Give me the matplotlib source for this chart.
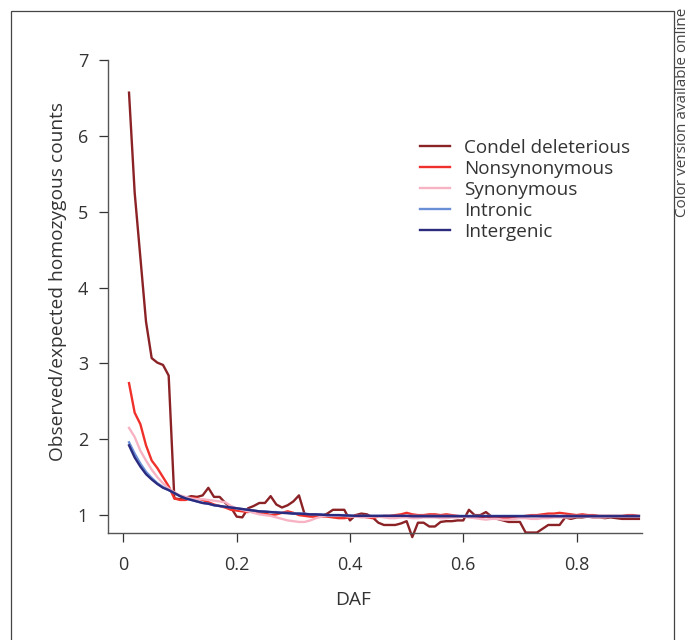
import matplotlib
matplotlib.use("Agg")
import matplotlib.pyplot as plt
from matplotlib.patches import Rectangle
import numpy as np

plt.rcParams['font.family'] = ['Open Sans', 'DejaVu Sans']

# derived allele frequency bins
daf = np.round(np.arange(1, 92) / 100, 2)

condel = [6.57, 5.25, 4.40, 3.55, 3.07, 3.01, 2.98, 2.84, 1.22, 1.21,
          1.23, 1.25, 1.24, 1.26, 1.36, 1.24, 1.24, 1.16, 1.10, 0.98,
          0.97, 1.09, 1.12, 1.16, 1.16, 1.25, 1.14, 1.10, 1.13, 1.18,
          1.26, 1.01, 1.00, 0.99, 0.99, 1.02, 1.07, 1.07, 1.07, 0.93,
          1.00, 1.02, 1.01, 0.97, 0.90, 0.87, 0.87, 0.87, 0.89, 0.92,
          0.71, 0.90, 0.90, 0.85, 0.85, 0.91, 0.92, 0.92, 0.93, 0.93,
          1.07, 1.00, 1.00, 1.04, 0.98, 0.95, 0.93, 0.91, 0.91, 0.91,
          0.77, 0.77, 0.77, 0.82, 0.87, 0.87, 0.87, 0.97, 0.95, 0.97,
          0.97, 0.98, 0.97, 0.97, 0.96, 0.97, 0.96, 0.95, 0.95, 0.95,
          0.95]
nonsyn = [2.74, 2.35, 2.20, 1.92, 1.72, 1.62, 1.50, 1.38, 1.22, 1.20,
          1.20, 1.23, 1.22, 1.20, 1.17, 1.14, 1.12, 1.10, 1.07, 1.06,
          1.05, 1.04, 1.06, 1.03, 1.02, 1.00, 1.01, 1.03, 1.05, 1.03,
          1.00, 0.99, 0.98, 0.98, 0.98, 0.98, 0.97, 0.96, 0.96, 0.97,
          1.00, 0.99, 0.97, 0.96, 0.98, 0.99, 0.99, 1.00, 1.01, 1.03,
          1.01, 1.00, 1.00, 1.01, 1.01, 1.00, 1.01, 1.00, 0.99, 0.98,
          0.98, 0.97, 0.97, 0.98, 0.97, 0.96, 0.96, 0.96, 0.97, 0.98,
          0.99, 1.00, 1.00, 1.01, 1.02, 1.02, 1.03, 1.02, 1.01, 1.00,
          1.01, 1.00, 1.00, 0.99, 0.99, 0.99, 0.99, 0.99, 1.00, 1.00,
          0.99]
syn = [2.15, 2.03, 1.85, 1.72, 1.60, 1.50, 1.42, 1.35, 1.30, 1.26,
       1.24, 1.22, 1.21, 1.21, 1.20, 1.19, 1.18, 1.17, 1.12, 1.09,
       1.07, 1.05, 1.03, 1.01, 1.00, 0.99, 0.97, 0.95, 0.93, 0.92,
       0.91, 0.91, 0.93, 0.96, 0.98, 0.99, 0.99, 0.99, 0.99, 0.98,
       0.98, 0.97, 0.97, 0.98, 0.98, 0.97, 0.96, 0.96, 0.97, 0.97,
       0.96, 0.96, 0.97, 0.97, 0.97, 0.96, 0.96, 0.97, 0.97, 0.98,
       0.97, 0.96, 0.95, 0.94, 0.95, 0.95, 0.94, 0.94, 0.95, 0.96,
       0.96, 0.95, 0.95, 0.96, 0.96, 0.97, 0.97, 0.97, 0.97, 0.98,
       0.98, 0.98, 0.97, 0.97, 0.97, 0.98, 0.98, 0.98, 0.98, 0.98,
       0.98]
intronic = [1.96, 1.81, 1.68, 1.57, 1.49, 1.42, 1.37, 1.33, 1.29, 1.25,
            1.22, 1.20, 1.18, 1.16, 1.15, 1.13, 1.12, 1.11, 1.10, 1.09,
            1.08, 1.07, 1.06, 1.05, 1.05, 1.04, 1.04, 1.03, 1.03, 1.02,
            1.02, 1.02, 1.01, 1.01, 1.01, 1.00, 1.00, 1.00, 1.00, 0.99,
            0.99, 0.99, 0.99, 0.99, 0.99, 0.99, 0.99, 0.99, 0.99, 0.99,
            0.99, 0.99, 0.99, 0.99, 0.99, 0.99, 0.99, 0.99, 0.99, 0.99,
            0.99, 0.99, 0.99, 0.99, 0.99, 0.99, 0.99, 0.99, 0.99, 0.99,
            0.99, 0.99, 0.99, 0.99, 0.99, 0.99, 0.99, 0.99, 0.99, 0.99,
            0.99, 0.99, 0.99, 0.99, 0.99, 0.99, 0.99, 0.99, 0.99, 0.99,
            0.99]
intergenic = [1.92, 1.76, 1.64, 1.54, 1.47, 1.41, 1.36, 1.33, 1.29, 1.25,
              1.22, 1.20, 1.18, 1.16, 1.15, 1.13, 1.12, 1.11, 1.10, 1.09,
              1.08, 1.07, 1.06, 1.05, 1.045, 1.04, 1.035, 1.03, 1.025, 1.02,
              1.02, 1.015, 1.01, 1.01, 1.005, 1.00, 1.00, 1.00, 0.995, 0.995,
              0.99, 0.99, 0.99, 0.99, 0.99, 0.99, 0.99, 0.99, 0.99, 0.99,
              0.985, 0.985, 0.985, 0.985, 0.985, 0.985, 0.985, 0.985, 0.985, 0.985,
              0.985, 0.985, 0.985, 0.985, 0.985, 0.985, 0.985, 0.985, 0.985, 0.985,
              0.985, 0.985, 0.985, 0.985, 0.985, 0.985, 0.985, 0.985, 0.985, 0.985,
              0.985, 0.985, 0.985, 0.985, 0.985, 0.985, 0.985, 0.985, 0.985, 0.985,
              0.985]

series = [
    ("Condel deleterious", condel, "#8b2226"),
    ("Nonsynonymous", nonsyn, "#f0302a"),
    ("Synonymous", syn, "#f7b3c3"),
    ("Intronic", intronic, "#6b8fd6"),
    ("Intergenic", intergenic, "#2a2b7e"),
]

fig = plt.figure(figsize=(6.91, 6.4), dpi=100)
ax = fig.add_axes([0.1567, 0.1667, 0.772, 0.7395])

for name, vals, col in series:
    ax.plot(daf, vals, color=col, lw=1.7, label=name, clip_on=False)

ax.set_xlim(-0.0266, 0.915)
ax.set_ylim(0.76, 7.0)
ax.set_xticks([0, 0.2, 0.4, 0.6, 0.8], ["0", "0.2", "0.4", "0.6", "0.8"])
ax.set_yticks([1, 2, 3, 4, 5, 6, 7])

for s in ["top", "right"]:
    ax.spines[s].set_visible(False)
for s in ["left", "bottom"]:
    ax.spines[s].set_color("#555555")
    ax.spines[s].set_linewidth(1.0)
ax.tick_params(axis="y", length=6.5, width=0.9, pad=8, labelsize=13,
               colors="#333333")
ax.tick_params(axis="x", length=6.5, width=0.9, pad=10, labelsize=13,
               colors="#333333")

ax.set_ylabel("Observed/expected homozygous counts", fontsize=13.8,
              color="#333333")
ax.yaxis.set_label_coords(-0.077, 0.533)
ax.set_xlabel("DAF", fontsize=13.8, color="#333333")
ax.xaxis.set_label_coords(0.459, -0.122)

leg = ax.legend(loc="upper left", bbox_to_anchor=(0.584, 0.834), frameon=False,
                fontsize=13.6, handlelength=1.6, handletextpad=0.75,
                labelspacing=0.16, borderpad=0, borderaxespad=0)
for t in leg.get_texts():
    t.set_color("#333333")

# outer frame of the figure panel
fig.add_artist(Rectangle((11 / 691, -0.1), (674 - 11) / 691, 1.1 - 11 / 640,
                         transform=fig.transFigure, fill=False,
                         edgecolor="#444444", lw=0.9))
fig.text(683 / 691, 1 - 8 / 640, "Color version available online", rotation=90,
         ha="center", va="top", fontsize=11, color="#444444")

fig.savefig("out.png", dpi=100)
